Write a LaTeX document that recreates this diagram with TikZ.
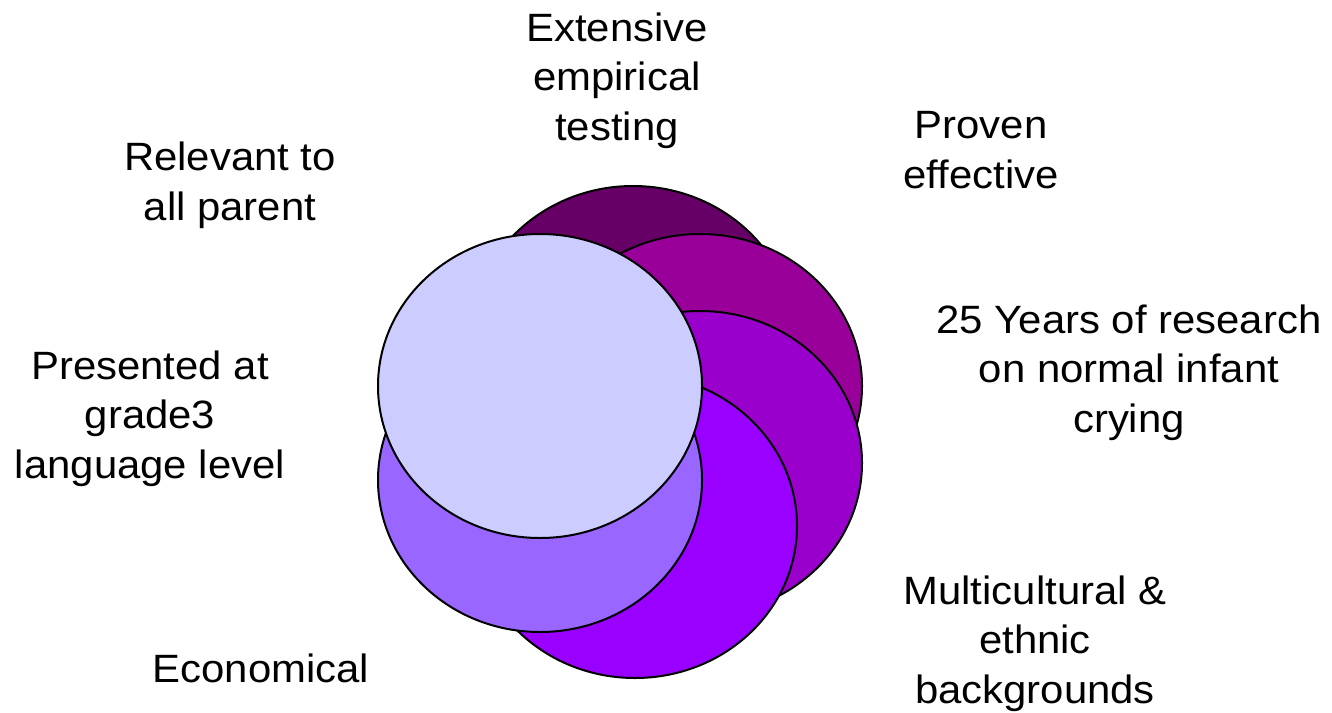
\documentclass[tikz,border=0pt]{standalone}
\usepackage{fontspec}
\setmainfont{Liberation Sans}[FakeStretch=1.06]
\usetikzlibrary{shapes.geometric}
\definecolor{plumA}{HTML}{660066}
\definecolor{plumB}{HTML}{990099}
\definecolor{plumC}{HTML}{9900CC}
\definecolor{plumD}{HTML}{9900FF}
\definecolor{plumE}{HTML}{9966FF}
\definecolor{plumF}{HTML}{CCCCFF}
\begin{document}
\begin{tikzpicture}[x=1pt, y=-1pt,
  disc/.style={ellipse, draw=black, line width=2pt, minimum width=324pt, minimum height=304pt, inner sep=0pt},
  lbl/.style={align=center, inner sep=0pt, anchor=base, font=\fontsize{39.5}{49.5}\selectfont}
]
\useasboundingbox (0,0) rectangle (1332,712);

% overlapping discs, last one on top
\node[disc, fill=plumA] (d1) at (633,338) {};
\node[disc, fill=plumB] (d2) at (700,386) {};
\node[disc, fill=plumC] (d3) at (700,463) {};
\node[disc, fill=plumD] (d4) at (635,526) {};
\node[disc, fill=plumE] (d5) at (540,480) {};
\node[disc, fill=plumF] (d6) at (540,386) {};

% labels (anchored on their last line)
\node[lbl] (testing) at (617,140) {Extensive\\empirical\\testing};
\node[lbl] (proven) at (981,188) {Proven\\effective};
\node[lbl] (research) at (1129,432) {25 Years of research\\on normal infant\\crying};
\node[lbl] (ethnic) at (1035,703) {Multicultural \&\\ethnic\\backgrounds};
\node[lbl] (cost) at (261,682) {Economical};
\node[lbl] (grade) at (150,478) {Presented at\\grade3\\language level};
\node[lbl] (parent) at (230,220) {Relevant to\\all parent};
\end{tikzpicture}
\end{document}
